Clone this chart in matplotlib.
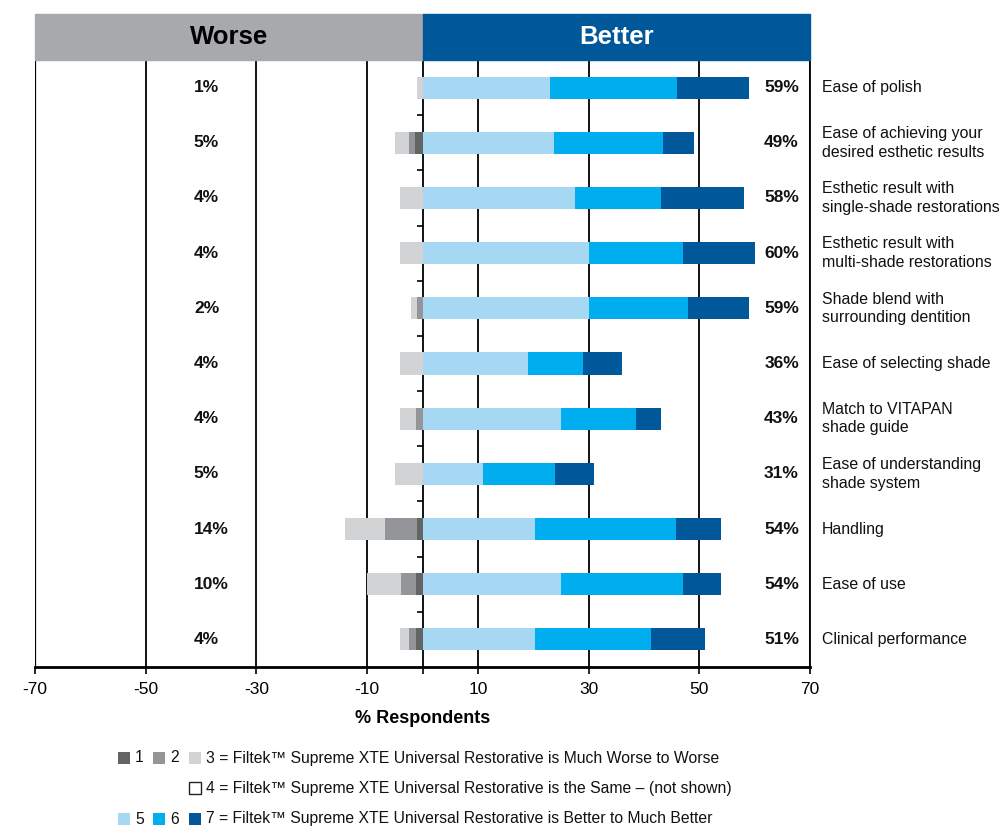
import matplotlib
matplotlib.use("Agg")
import matplotlib.pyplot as plt
from matplotlib.patches import Rectangle

plt.rcParams["font.family"] = ["Liberation Sans", "DejaVu Sans"]

# Survey attributes, top to bottom
categories = [
    "Ease of polish",
    "Ease of achieving your\ndesired esthetic results",
    "Esthetic result with\nsingle-shade restorations",
    "Esthetic result with\nmulti-shade restorations",
    "Shade blend with\nsurrounding dentition",
    "Ease of selecting shade",
    "Match to VITAPAN\nshade guide",
    "Ease of understanding\nshade system",
    "Handling",
    "Ease of use",
    "Clinical performance",
]

# Share of respondents (%) per rating score
score1 = [0, 1.3, 0, 0, 0, 0, 0, 0, 1.0, 1.1, 1.1]
score2 = [0, 1.2, 0, 0, 1.0, 0, 1.1, 0, 5.8, 2.7, 1.4]
score3 = [1.0, 2.5, 4.0, 4.0, 1.0, 4.0, 2.9, 5.0, 7.2, 6.2, 1.5]
score5 = [23, 23.8, 27.5, 30, 30, 19, 25, 11, 20.3, 25, 20.4]
score6 = [23, 19.7, 15.5, 17, 18, 10, 13.5, 13, 25.5, 22, 20.8]
score7 = [13, 5.5, 15, 13, 11, 7, 4.5, 7, 8.2, 7, 9.8]

xticks = [-70, -50, -30, -10, 10, 30, 50, 70]

legend_worse = "3 = Filtek\u2122 Supreme XTE Universal Restorative is Much Worse to Worse"
legend_same = "4 = Filtek\u2122 Supreme XTE Universal Restorative is the Same \u2013 (not shown)"
legend_better = "7 = Filtek\u2122 Supreme XTE Universal Restorative is Better to Much Better"

C1, C2, C3 = "#636466", "#939598", "#d1d3d4"
C5, C6, C7 = "#a6d8f4", "#00aeef", "#00579a"
HEAD_GRAY = "#a7a9ac"
INK = "#111111"

W, H = 1005, 827
fig = plt.figure(figsize=(W / 100, H / 100), dpi=100, facecolor="white")
ax = fig.add_axes([35 / W, 1 - 667 / H, 775 / W, 607 / H])

n = len(categories)
ys = list(range(n))
bh = 0.4

# Worse side: stacked outward from zero (score 1 nearest the axis)
neg_off = [0.0] * n
for vals, col in ((score1, C1), (score2, C2), (score3, C3)):
    ax.barh(ys, [-v for v in vals], left=[-o for o in neg_off], height=bh,
            color=col, edgecolor="none", zorder=3)
    neg_off = [o + v for o, v in zip(neg_off, vals)]

# Better side
pos_off = [0.0] * n
for vals, col in ((score5, C5), (score6, C6), (score7, C7)):
    ax.barh(ys, vals, left=pos_off, height=bh, color=col, edgecolor="none", zorder=3)
    pos_off = [o + v for o, v in zip(pos_off, vals)]

ax.set_xlim(-70, 70)
ax.set_ylim(n - 0.5, -0.5)

# Percentage totals on each side, attribute names at the right
for i in range(n):
    ax.text(-41.3, i, f"{round(neg_off[i])}%", ha="left", va="center",
            fontsize=12.5, fontweight="bold", color=INK)
    ax.text(68.0, i, f"{round(pos_off[i])}%", ha="right", va="center",
            fontsize=12.5, fontweight="bold", color=INK)
    ax.text(72.2, i, categories[i], ha="left", va="center", fontsize=11.4,
            color=INK, linespacing=1.3, clip_on=False)

# Axes, grid and ticks
ax.set_xticks(xticks)
ax.set_xticklabels([str(t) for t in xticks], fontsize=12.5)
ax.set_xticks([0], minor=True)
ax.tick_params(axis="x", which="both", direction="out", length=5, width=1.2,
               pad=6, colors="black")
ax.grid(axis="x", which="major", color="black", linewidth=1.3, zorder=0.5)
ax.set_axisbelow(True)

ax.spines["left"].set_position(("data", 0))
ax.spines["left"].set_linewidth(1.3)
ax.set_yticks([i + 0.5 for i in range(n - 1)])
ax.set_yticklabels([])
ax.tick_params(axis="y", direction="out", length=4, width=1.2)
ax.axvline(-70, color="black", linewidth=1.6, zorder=2)
ax.spines["right"].set_linewidth(1.3)
ax.spines["top"].set_visible(False)
ax.spines["bottom"].set_linewidth(2.0)

ax.set_xlabel("% Respondents", fontsize=13, fontweight="bold", labelpad=9)

# Header bands
tr = ax.get_xaxis_transform()
hh = 46 / 607
ax.add_patch(Rectangle((-70, 1), 70, hh, transform=tr, color=HEAD_GRAY,
                       clip_on=False, zorder=4))
ax.add_patch(Rectangle((0, 1), 70, hh, transform=tr, color=C7,
                       clip_on=False, zorder=4))
ax.text(-35, 1 + hh / 2, "Worse", transform=tr, ha="center", va="center",
        fontsize=18.5, fontweight="bold", color="black", zorder=5)
ax.text(35, 1 + hh / 2, "Better", transform=tr, ha="center", va="center",
        fontsize=18.5, fontweight="bold", color="white", zorder=5)


# Legend rows placed in pixel-based figure coordinates
def swatch(x, y, color, edge="none"):
    fig.patches.append(Rectangle((x / W, 1 - (y + 6) / H), 12 / W, 12 / H,
                                 transform=fig.transFigure, facecolor=color,
                                 edgecolor=edge, linewidth=1.0))


def label(x, y, s):
    fig.text(x / W, 1 - y / H, s, ha="left", va="center", fontsize=11.3, color=INK)


row_y = [758, 788, 819]
swatch(118, row_y[0], C1); label(135, row_y[0], "1")
swatch(153, row_y[0], C2); label(170, row_y[0], "2")
swatch(189, row_y[0], C3); label(206, row_y[0], legend_worse)
swatch(189, row_y[1], "white", edge="#222222"); label(206, row_y[1], legend_same)
swatch(118, row_y[2], C5); label(135, row_y[2], "5")
swatch(153, row_y[2], C6); label(170, row_y[2], "6")
swatch(189, row_y[2], C7); label(206, row_y[2], legend_better)

fig.savefig("out.png", dpi=100, facecolor="white")
